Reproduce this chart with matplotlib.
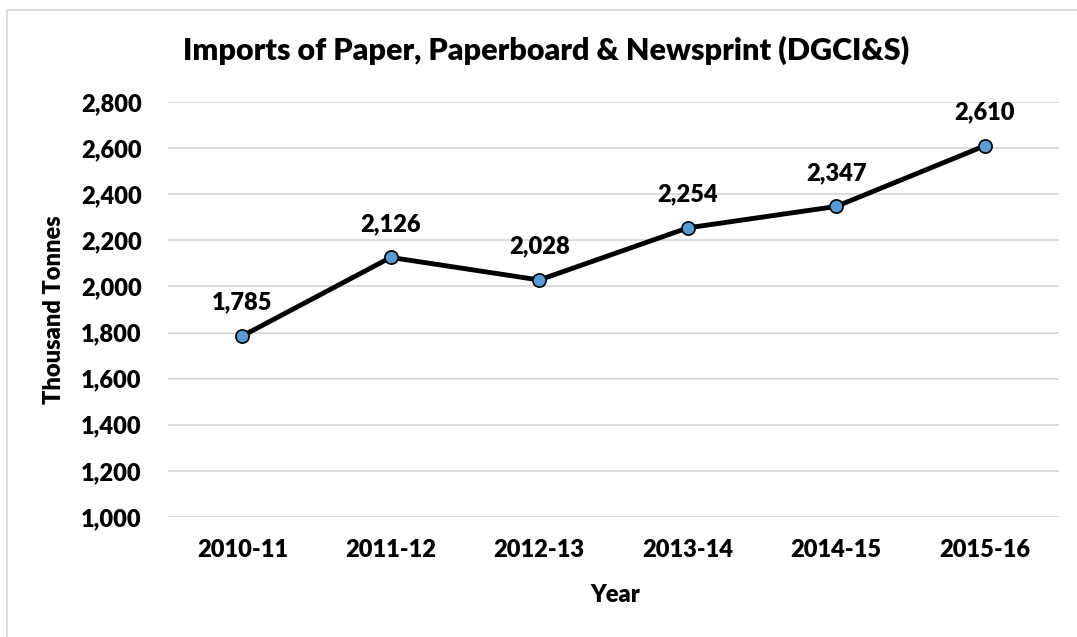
import matplotlib.pyplot as plt
import matplotlib.patches as patches
import numpy as np

# Data
years = ["2010-11", "2011-12", "2012-13", "2013-14", "2014-15", "2015-16"]
imports = [1785, 2126, 2028, 2254, 2347, 2610]
yticks = np.arange(1000, 2801, 200)

plt.rcParams['font.family'] = ['Lato', 'DejaVu Sans']
plt.rcParams['font.weight'] = 'heavy'

W, H = 1077, 637
fig = plt.figure(figsize=(W / 100, H / 100), dpi=100)
ax = fig.add_axes([168/W, 1 - 517/H, (1059-168)/W, (517-102)/H])

x = np.arange(len(years))
ax.plot(x, imports, color='black', linewidth=3.5, marker='o', markersize=9.5,
        markerfacecolor='#5B9BD5', markeredgecolor='black', markeredgewidth=1.2,
        zorder=3)
for xi, v in zip(x, imports):
    ax.annotate(f"{v:,}", (xi, v), xytext=(0, 19), textcoords='offset points',
                ha='center', va='baseline', fontsize=17)

ax.set_xlim(-0.5, len(years) - 0.5)
ax.set_ylim(1000, 2800)
ax.set_yticks(yticks)
ax.set_yticklabels([f"{t:,}" for t in yticks])
ax.set_xticks(x)
ax.set_xticklabels(years)
ax.tick_params(axis='both', length=0, labelsize=17)
ax.tick_params(axis='x', pad=16)
ax.tick_params(axis='y', pad=19)
ax.grid(axis='y', color='#D9D9D9', linewidth=1.3)
ax.set_axisbelow(True)
for s in ax.spines.values():
    s.set_visible(False)

fig.text(615/W, 1 - 595/H, "Year", ha='center', va='center', fontsize=17)
fig.text(54/W, 1 - 310/H, "Thousand Tonnes", ha='center', va='center',
         rotation=90, fontsize=17)
fig.text(546/W, 1 - 50/H, "Imports of Paper, Paperboard & Newsprint (DGCI&S)",
         ha='center', va='center', fontsize=22)

# chart border
fig.patches.append(patches.Rectangle((7/W, -0.01), 1, 1.01 - 10/H,
                                     transform=fig.transFigure, fill=False,
                                     edgecolor='#D9D9D9', linewidth=1.3))

fig.savefig("out.png", dpi=100)
